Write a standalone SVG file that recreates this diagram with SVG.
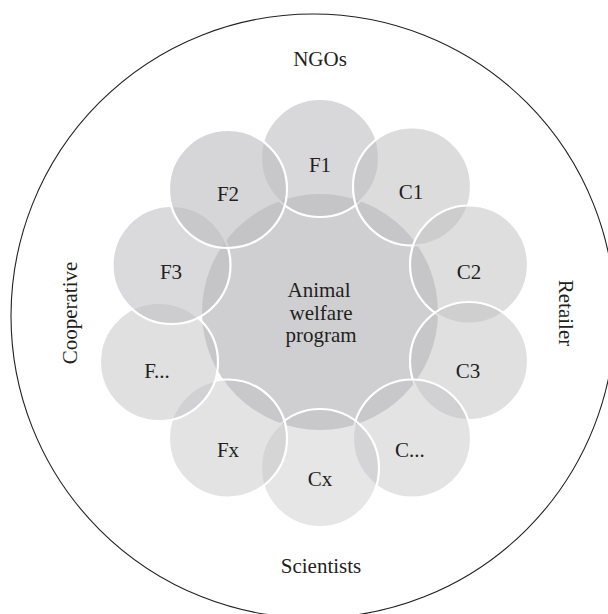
<svg xmlns="http://www.w3.org/2000/svg" width="608" height="614" viewBox="0 0 608 614">
<style>
  .lbl { font-family: "Liberation Serif", "Times New Roman", serif; font-size: 21px; fill: #231f20; text-anchor: middle; }
  .sc { fill: #bebec1; stroke: #ffffff; stroke-width: 2.2; }
</style>
<rect x="0" y="0" width="608" height="614" fill="#ffffff"/>
<g id="outer">
  <circle cx="313" cy="316" r="302" fill="none" stroke="#231f20" stroke-width="1.1"/>
  <text class="lbl" x="320" y="66">NGOs</text>
  <text class="lbl" x="321" y="573">Scientists</text>
  <text class="lbl" transform="translate(77,313) rotate(-90)">Cooperative</text>
  <text class="lbl" transform="translate(559,313) rotate(90)">Retailer</text>
</g>
<g id="center">
  <circle cx="320" cy="312" r="118" fill="#cfcfd1"/>
  <text class="lbl" x="319" y="297">Animal</text>
  <text class="lbl" x="321" y="320">welfare</text>
  <text class="lbl" x="321" y="342">program</text>
</g>
<g id="connectors"></g>
<g id="F1"><circle class="sc" cx="320" cy="158" r="59" fill-opacity="0.60"/><text class="lbl" x="320" y="172">F1</text></g>
<g id="C1"><circle class="sc" cx="412" cy="186.5" r="59" fill-opacity="0.54"/><text class="lbl" x="411" y="199">C1</text></g>
<g id="C2"><circle class="sc" cx="469" cy="264.5" r="59" fill-opacity="0.51"/><text class="lbl" x="469" y="279">C2</text></g>
<g id="C3"><circle class="sc" cx="469" cy="361" r="59" fill-opacity="0.48"/><text class="lbl" x="468" y="378">C3</text></g>
<g id="Cdots"><circle class="sc" cx="412" cy="438.5" r="59" fill-opacity="0.43"/><text class="lbl" x="410" y="457">C...</text></g>
<g id="Cx"><circle class="sc" cx="320" cy="468" r="59" fill-opacity="0.38"/><text class="lbl" x="320" y="486">Cx</text></g>
<g id="Fx"><circle class="sc" cx="228" cy="438.5" r="59" fill-opacity="0.43"/><text class="lbl" x="228" y="457">Fx</text></g>
<g id="Fdots"><circle class="sc" cx="159" cy="362" r="59" fill-opacity="0.48"/><text class="lbl" x="157" y="378">F...</text></g>
<g id="F3"><circle class="sc" cx="171.5" cy="265" r="59" fill-opacity="0.57"/><text class="lbl" x="171" y="279">F3</text></g>
<g id="F2"><circle class="sc" cx="228" cy="189" r="59" fill-opacity="0.63"/><text class="lbl" x="228" y="201">F2</text></g>
</svg>
